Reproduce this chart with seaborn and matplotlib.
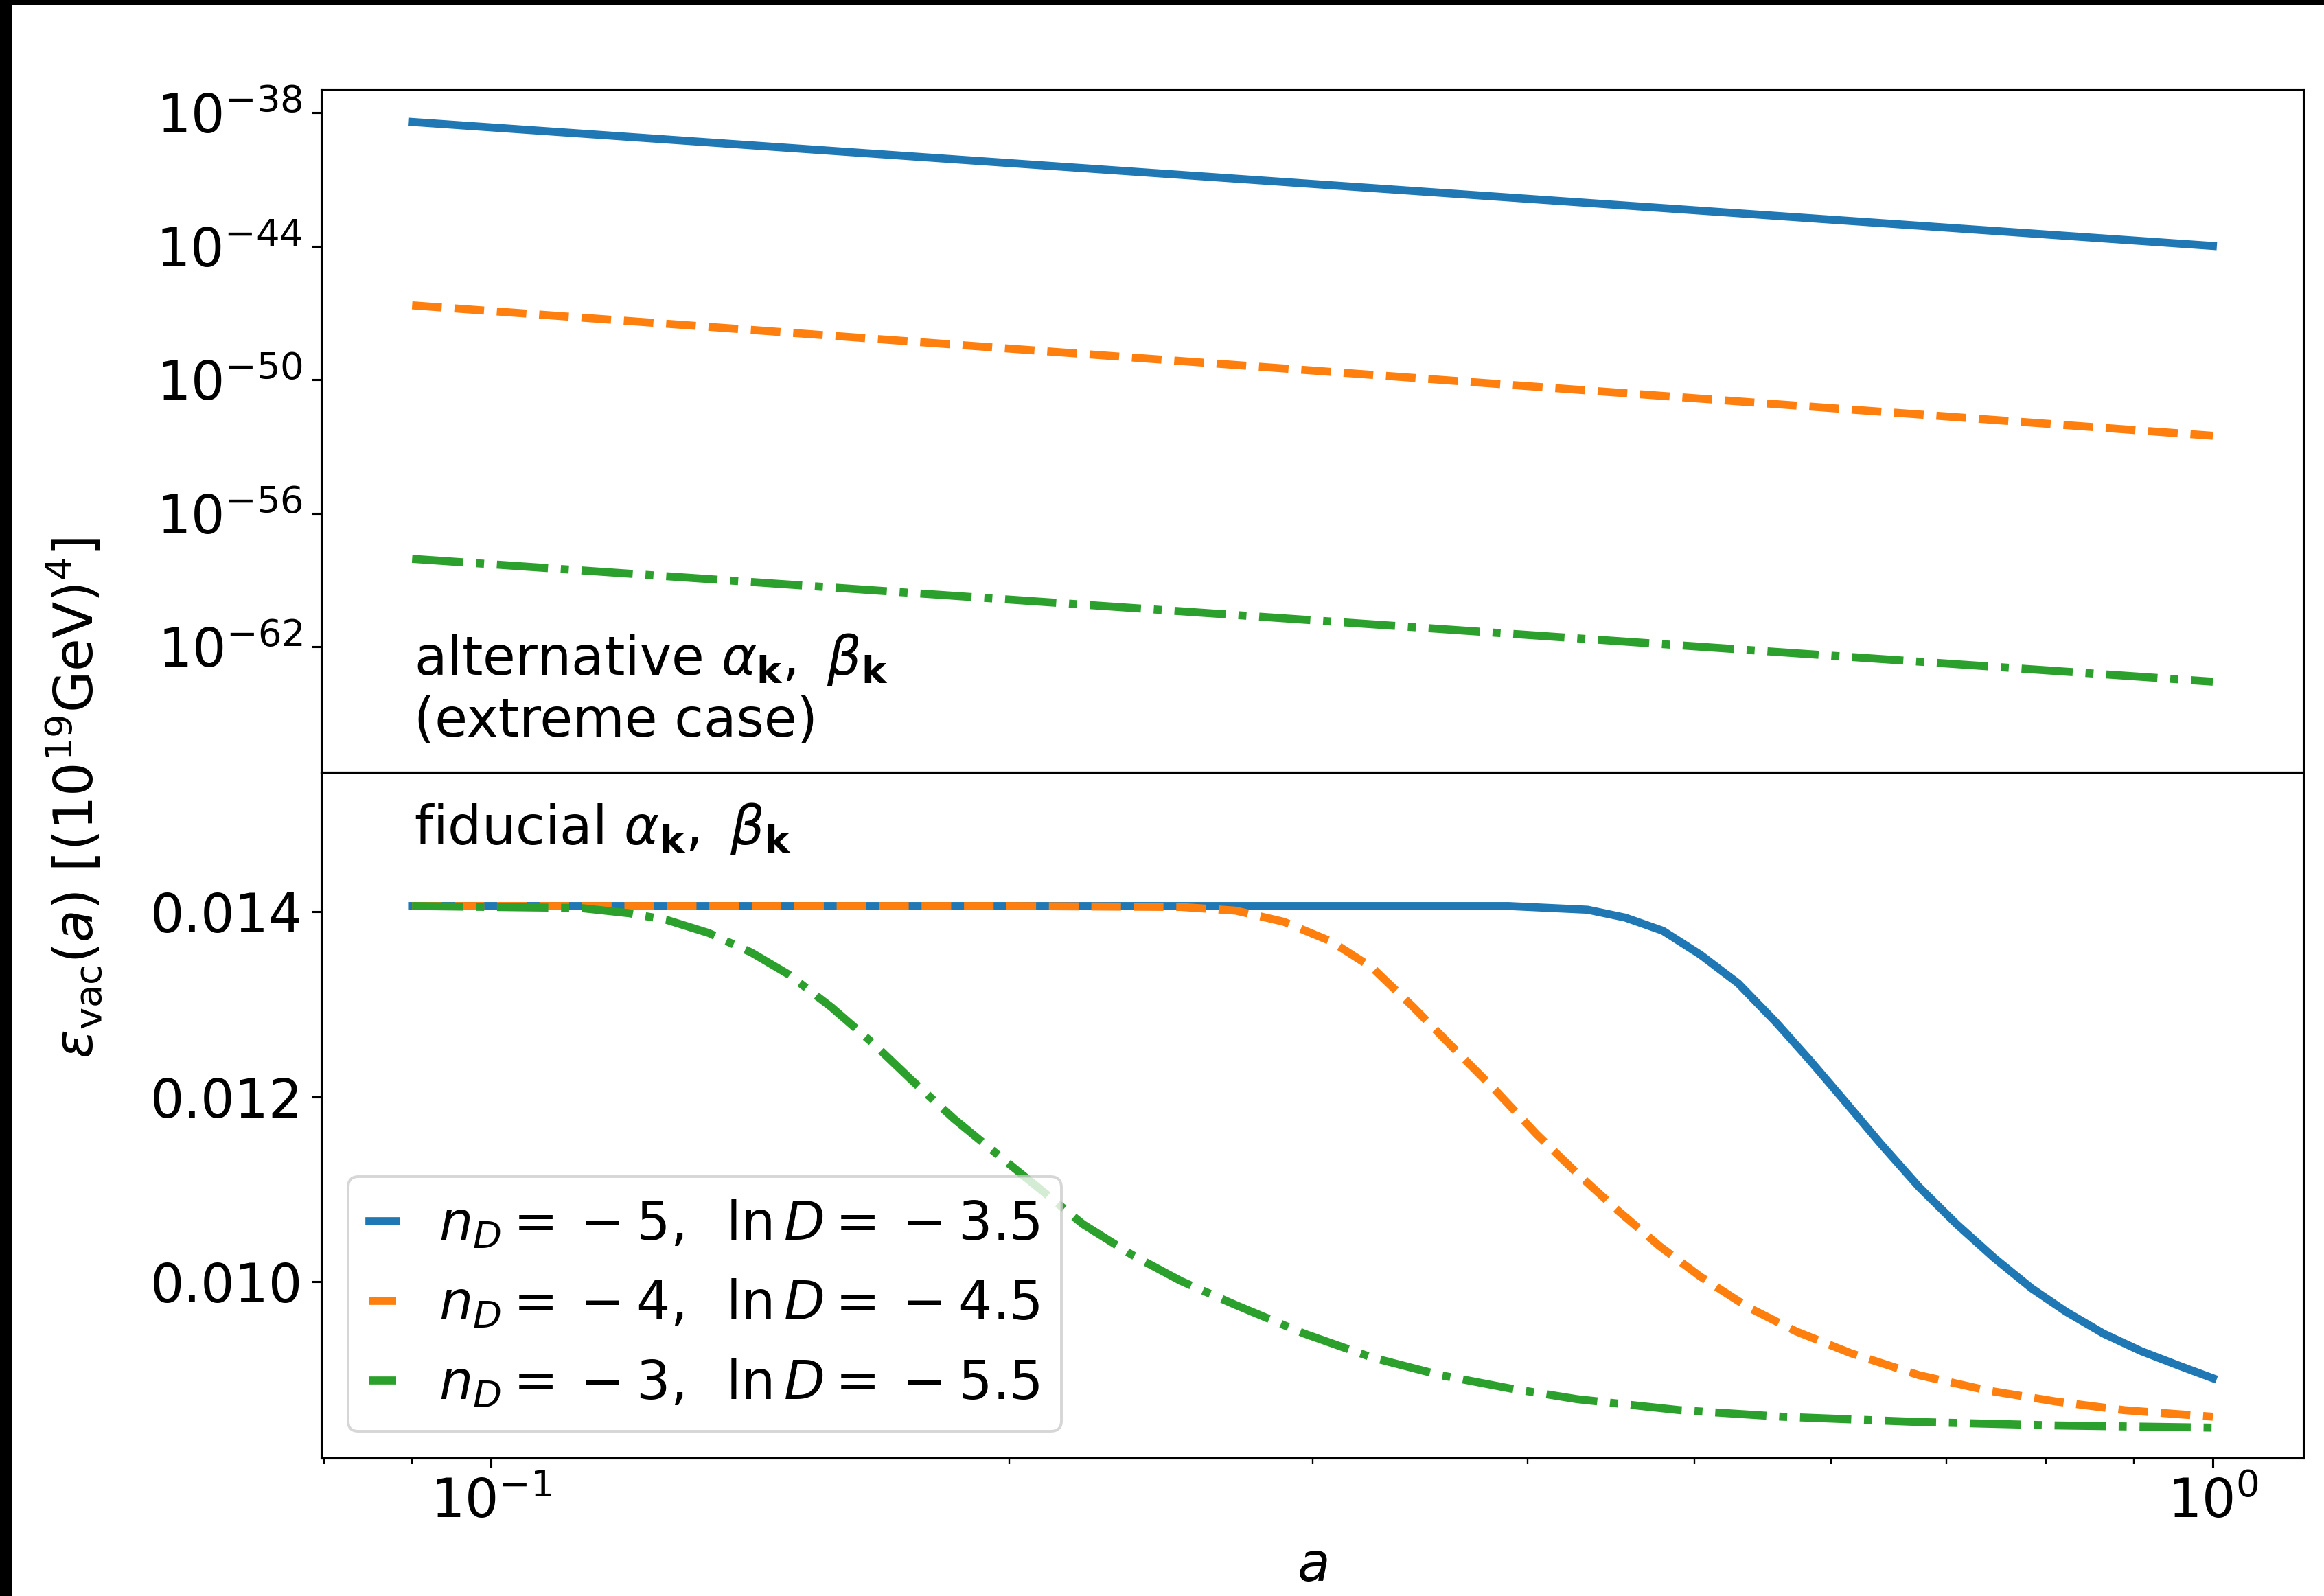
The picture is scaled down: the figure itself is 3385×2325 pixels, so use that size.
import numpy as np
import pandas as pd
import matplotlib
matplotlib.use("Agg")
import matplotlib.pyplot as plt
from matplotlib.patches import Rectangle
from matplotlib.ticker import NullLocator, FixedLocator
import seaborn as sns

plt.rcParams['font.family'] = ['DejaVu Sans']
plt.rcParams['font.size'] = 20
plt.rcParams['mathtext.fontset'] = 'dejavusans'

# ---------------- data ----------------
labels = [r"$n_D =\>-\>5,\>\ \ln D =\>-\>3.5$",
          r"$n_D =\>-\>4,\>\ \ln D =\>-\>4.5$",
          r"$n_D =\>-\>3,\>\ \ln D =\>-\>5.5$"]
colors = ["#1f77b4", "#ff7f0e", "#2ca02c"]
styles = ["-", "--", "-."]

# top panel (alternative alpha_k, beta_k; power laws in log-log)
a_top = [0.09, 1.0]
eps_top_1 = [3.80e-39, 1.02e-44]
eps_top_2 = [2.19e-47, 3.02e-53]
eps_top_3 = [8.91e-59, 2.69e-64]

# bottom panel (fiducial alpha_k, beta_k)
a_bot_1 = [0.09, 0.15, 0.25, 0.35, 0.39, 0.4122, 0.4334, 0.4558, 0.4793, 0.5040,
           0.5300, 0.5572, 0.5832, 0.6106, 0.6419, 0.6750, 0.7099, 0.7464, 0.7849,
           0.8217, 0.8640, 0.9085, 0.9552, 1.0]
eps_bot_1 = [0.01406, 0.01406, 0.01406, 0.01406, 0.01406, 0.014039, 0.014020, 0.013935,
             0.013793, 0.013534, 0.013226, 0.012810, 0.012398, 0.011963, 0.011485,
             0.011027, 0.010624, 0.010260, 0.009930, 0.009679, 0.009442, 0.009253,
             0.009097, 0.008960]

a_bot_2 = [0.09, 0.15, 0.2, 0.2516, 0.2708, 0.2887, 0.3078, 0.3251, 0.3434, 0.3627,
           0.3833, 0.4049, 0.4276, 0.4516, 0.4771, 0.5040, 0.5372, 0.5727, 0.6163,
           0.6750, 0.7396, 0.8103, 0.8880, 1.0]
eps_bot_2 = [0.01406, 0.01406, 0.01406, 0.01405, 0.01401, 0.01389, 0.013675, 0.013391,
             0.012966, 0.012516, 0.012067, 0.011594, 0.011169, 0.010767, 0.010388,
             0.010057, 0.009726, 0.009466, 0.009230, 0.008993, 0.008828, 0.008709,
             0.008615, 0.008544]

a_bot_3 = [0.09, 0.1127, 0.1203, 0.1264, 0.1338, 0.1417, 0.1489, 0.1577, 0.1670,
           0.1754, 0.1858, 0.1967, 0.2084, 0.2207, 0.2356, 0.2516, 0.2708, 0.2967,
           0.3251, 0.3560, 0.3903, 0.4276, 0.4902, 0.5623, 0.6750, 0.8103, 1.0]
eps_bot_3 = [0.01406, 0.014039, 0.013982, 0.013912, 0.013769, 0.013557, 0.013321,
             0.012966, 0.012564, 0.012185, 0.011760, 0.011382, 0.011003, 0.010624,
             0.010294, 0.010010, 0.009750, 0.009442, 0.009182, 0.008993, 0.008851,
             0.008733, 0.008615, 0.008544, 0.008487, 0.008450, 0.008426]

top_ticks = [1e-62, 1e-56, 1e-50, 1e-44, 1e-38]
bot_ticks = [0.010, 0.012, 0.014]

# ---------------- figure ----------------
W, H, DPI = 3385, 2325, 280
fig = plt.figure(figsize=(W / DPI, H / DPI), dpi=DPI)
fig.patch.set_facecolor("white")
# black border strips (left, top) as in the reference image
fig.patches.append(Rectangle((0, 0), 17 / W, 1, transform=fig.transFigure,
                             facecolor="black", edgecolor="none", zorder=-1))
fig.patches.append(Rectangle((0, 1 - 8 / H), 1, 8 / H, transform=fig.transFigure,
                             facecolor="black", edgecolor="none", zorder=-1))

left, right = 468 / W, 3355 / W
y_top, y_mid, y_bot = 1 - 130 / H, 1 - 1125 / H, 1 - 2124 / H
ax1 = fig.add_axes([left, y_mid, right - left, y_top - y_mid])
ax2 = fig.add_axes([left, y_bot, right - left, y_mid - y_bot], sharex=ax1)

for ax in (ax1, ax2):
    ax.set_xscale("log")
ax1.set_yscale("log")

tops = [eps_top_1, eps_top_2, eps_top_3]
bots = [(a_bot_1, eps_bot_1), (a_bot_2, eps_bot_2), (a_bot_3, eps_bot_3)]

for i in range(3):
    sns.lineplot(x=a_top, y=tops[i], ax=ax1, color=colors[i], linestyle=styles[i],
                 lw=3, legend=False)
    ab, eb = bots[i]
    sns.lineplot(x=ab, y=eb, ax=ax2, color=colors[i], linestyle=styles[i],
                 lw=3, label=labels[i], legend=False)

ax1.set_ylim(10 ** -67.64, 10 ** -36.95)
ax1.yaxis.set_major_locator(FixedLocator(top_ticks))
ax1.yaxis.set_minor_locator(NullLocator())
ax1.tick_params(axis="x", which="both", bottom=False, labelbottom=False)

ax2.set_ylim(0.008098, 0.015505)
ax2.set_yticks(bot_ticks)
ax2.set_yticklabels(["0.010", "0.012", "0.014"])
ax2.set_xlim(10 ** -1.0985, 10 ** 0.0526)

ax1.set_xlabel("")
ax1.set_ylabel("")
ax2.set_ylabel("")
ax2.set_xlabel(r"$a$")

ax1.text(0.0468, 0.0523, "alternative " + r"$\alpha_\mathbf{k},\ \beta_\mathbf{k}$" + "\n(extreme case)",
         transform=ax1.transAxes, ha="left", va="baseline")
ax2.text(0.0468, 0.895, "fiducial " + r"$\alpha_\mathbf{k},\ \beta_\mathbf{k}$",
         transform=ax2.transAxes, ha="left", va="baseline")

ax2.legend(loc="lower left", handlelength=0.5)

fig.text(108 / W, 0.5, r"$\varepsilon_{\rm vac}(a)$ [$(10^{19}{\rm GeV})^4$]",
         rotation=90, ha="center", va="center")

fig.savefig("out.png", dpi=DPI, facecolor=fig.get_facecolor())
